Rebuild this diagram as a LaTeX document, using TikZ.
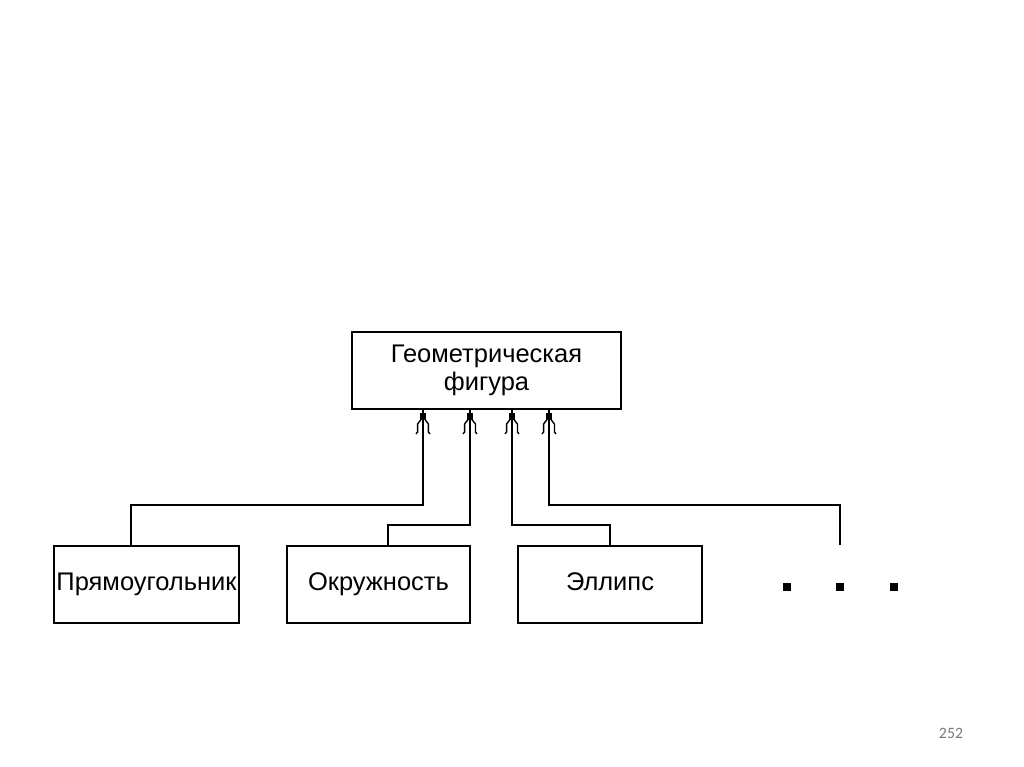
\documentclass[tikz,border=0pt]{standalone}
\usepackage{fontspec}
\setmainfont{Liberation Sans}
\newfontfamily\slidefont{Carlito}
\usetikzlibrary{arrows.meta}
\definecolor{pagegray}{RGB}{120, 120, 120}

% inheritance tip: small block and open fork
\pgfdeclarearrow{
  name=InheritFork,
  setup code={
    \pgfarrowssettipend{0pt}
    \pgfarrowssetlineend{0pt}
    \pgfarrowssetbackend{-13.8pt}
    \pgfarrowshullpoint{0pt}{2pt}
    \pgfarrowshullpoint{0pt}{-2pt}
    \pgfarrowshullpoint{-13.8pt}{4.2pt}
    \pgfarrowshullpoint{-13.8pt}{-4.2pt}
  },
  drawing code={
    \pgfpathrectanglecorners{\pgfpoint{-1.6pt}{-1.7pt}}{\pgfpoint{-5.7pt}{1.7pt}}
    \pgfusepathqfill
    \pgfsetlinewidth{0.8pt}
    \pgfsetmiterjoin
    \pgfpathmoveto{\pgfpoint{-13.6pt}{-4pt}}
    \pgfpathlineto{\pgfpoint{-12.6pt}{-3.1pt}}
    \pgfpathlineto{\pgfpoint{-8pt}{-3.1pt}}
    \pgfpathlineto{\pgfpoint{-5.7pt}{-1.3pt}}
    \pgfpathmoveto{\pgfpoint{-13.6pt}{4pt}}
    \pgfpathlineto{\pgfpoint{-12.6pt}{3.1pt}}
    \pgfpathlineto{\pgfpoint{-8pt}{3.1pt}}
    \pgfpathlineto{\pgfpoint{-5.7pt}{1.3pt}}
    \pgfusepathqstroke
  }
}

\begin{document}
\begin{tikzpicture}[x=0.02cm, y=-0.02cm,
    figbox/.style={draw, line width=1.1pt, inner sep=0pt, minimum height=1.54cm,
        font=\fontsize{14.5}{16}\selectfont},
    inherit/.style={line width=1.1pt, -InheritFork},
    dot/.style={fill, inner sep=0pt, minimum size=0.16cm}]
            \useasboundingbox (0,0) rectangle (1024,767);

            % Parent box
            \node[figbox, align=center, minimum width=5.38cm] (fig) at (486.5,370.5) {Геометрическая\\фигура};

            % Child boxes
            \node[figbox, text height=0.72em, text depth=0pt, minimum width=3.7cm] (rect) at (146.5,584.5) {Прямоугольник};
            \node[figbox, text height=0.72em, text depth=0pt, minimum width=3.66cm] (circ) at (378.5,584.5) {Окружность};
            \node[figbox, text height=0.72em, text depth=0pt, minimum width=3.68cm] (ell) at (610,584.5) {Эллипс};

            % Dots
            \node[dot] (d1) at (787,587) {};
            \node[dot] (d2) at (840,587) {};
            \node[dot] (d3) at (894,587) {};
            \coordinate (more) at (840,545);

            % Connectors
            \draw[inherit] (rect.north -| 131,0) |- (423,505) -- (fig.south -| 423,0);
            \draw[inherit] (circ.north -| 388,0) |- (470,525) -- (fig.south -| 470,0);
            \draw[inherit] (ell.north) |- (512,525) -- (fig.south -| 512,0);
            \draw[inherit] (more) |- (549,505) -- (fig.south -| 549,0);

            % Page number
            \node[pagegray, font=\slidefont\fontsize{9}{11}\selectfont] (page) at (951,733) {252};
        \end{tikzpicture}
\end{document}
